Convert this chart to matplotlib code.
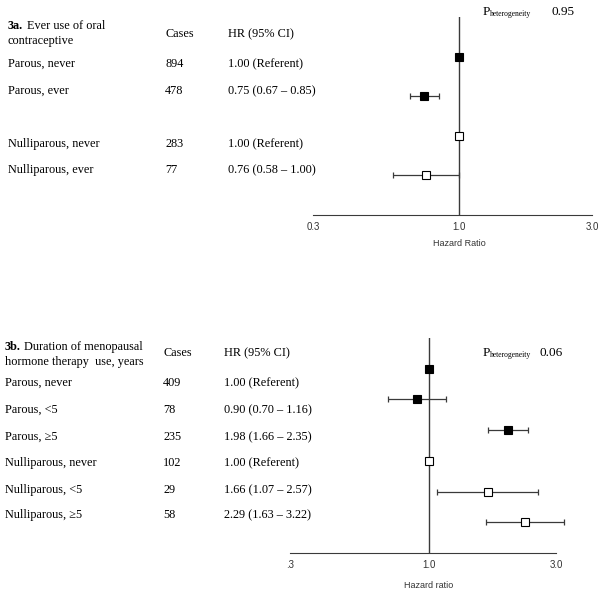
import matplotlib
matplotlib.use("Agg")
import matplotlib.pyplot as plt
import numpy as np

# ---- data (3a: oral contraceptive) ----
oc_labels = ["Parous, never", "Parous, ever", "Nulliparous, never", "Nulliparous, ever"]
oc_cases = [894, 478, 283, 77]
oc_hr = [1.00, 0.75, 1.00, 0.76]
oc_lo = [np.nan, 0.67, np.nan, 0.58]
oc_hi = [np.nan, 0.85, np.nan, 1.00]
oc_hr_text = ["1.00 (Referent)", "0.75 (0.67 \u2013 0.85)", "1.00 (Referent)", "0.76 (0.58 \u2013 1.00)"]
oc_filled = [True, True, False, False]
oc_p = "0.95"

# ---- data (3b: menopausal hormone therapy) ----
ht_labels = ["Parous, never", "Parous, <5", "Parous, \u22655",
             "Nulliparous, never", "Nulliparous, <5", "Nulliparous, \u22655"]
ht_cases = [409, 78, 235, 102, 29, 58]
ht_hr = [1.00, 0.90, 1.98, 1.00, 1.66, 2.29]
ht_lo = [np.nan, 0.70, 1.66, np.nan, 1.07, 1.63]
ht_hi = [np.nan, 1.16, 2.35, np.nan, 2.57, 3.22]
ht_hr_text = ["1.00 (Referent)", "0.90 (0.70 \u2013 1.16)", "1.98 (1.66 \u2013 2.35)",
              "1.00 (Referent)", "1.66 (1.07 \u2013 2.57)", "2.29 (1.63 \u2013 3.22)"]
ht_filled = [True, True, True, False, False, False]
ht_p = "0.06"

tick_vals = [0.3, 1.0, 3.0]
top_ticks = ["0.3", "1.0", "3.0"]
bot_ticks = [".3", "1.0", "3.0"]

W, H = 600, 595
SERIF = "Liberation Serif"
SANS = "Liberation Sans"
LINE = "#3a3a3a"
FS = 8.8

fig = plt.figure(figsize=(W / 100, H / 100), dpi=100)


def T(x, y, s, size=FS, family=SERIF, **kw):
    kw.setdefault("va", "center")
    fig.text(x / W, 1 - y / H, s, fontsize=size, family=family, **kw)


def forest(x0, x1, y_top, y_bot, hr, lo, hi, filled, ticks, xlabel, xlabel_y):
    ax = fig.add_axes([x0 / W, 1 - y_bot / H, (x1 - x0) / W, (y_bot - y_top) / H])
    n = len(hr)
    ax.set_xscale("log")
    ax.set_xlim(0.3, 3.0)
    ax.set_ylim(n, -1)
    ax.axvline(1.0, color=LINE, lw=1.0, zorder=1)
    for i in range(n):
        if not np.isnan(lo[i]):
            ax.errorbar(hr[i], i, xerr=[[hr[i] - lo[i]], [hi[i] - hr[i]]], fmt="none",
                        ecolor=LINE, elinewidth=0.9, capsize=2.3, capthick=0.9,
                        zorder=2, clip_on=False)
        ax.plot(hr[i], i, marker="s", ms=6.3, mec="black", mew=0.8,
                mfc="black" if filled[i] else "white", ls="none", zorder=3, clip_on=False)
    for s in ["top", "right", "left"]:
        ax.spines[s].set_visible(False)
    ax.spines["bottom"].set_color(LINE)
    ax.set_yticks([])
    ax.set_xticks(tick_vals)
    ax.set_xticklabels(ticks)
    ax.xaxis.set_minor_locator(matplotlib.ticker.NullLocator())
    ax.tick_params(axis="x", length=0, pad=5, labelsize=7, colors="#333333")
    for lab in ax.get_xticklabels():
        lab.set_family(SANS)
    # x-axis title centred under the reference line at HR = 1
    x_ref = x0 + (x1 - x0) * np.log10(1 / 0.3) / np.log10(3.0 / 0.3)
    T(x_ref, xlabel_y, xlabel, size=6.5, family=SANS, ha="center", color="#333333")
    ax.patch.set_alpha(0)
    return ax


# ---- panel 3a ----
T(8, 26, "3a.", weight="bold")
T(27, 26, "Ever use of oral")
T(8, 41, "contraceptive")
T(165, 34, "Cases")
T(228, 34, "HR (95% CI)")
oc_text_y = [64, 91, 144, 170]
for i in range(len(oc_labels)):
    T(8, oc_text_y[i], oc_labels[i])
    T(165, oc_text_y[i], str(oc_cases[i]))
    T(228, oc_text_y[i], oc_hr_text[i])
T(483, 12, "P", size=9.5)
T(490, 14, "heterogeneity", size=5.5)
T(552, 12, oc_p, size=9.5)
forest(313, 592, 17, 215, oc_hr, oc_lo, oc_hi, oc_filled, top_ticks, "Hazard Ratio", 244)

# ---- panel 3b ----
T(5, 347, "3b.", weight="bold")
T(24, 347, "Duration of menopausal")
T(5, 362, "hormone therapy  use, years")
T(163, 353, "Cases")
T(224, 353, "HR (95% CI)")
ht_text_y = [383, 410, 437, 463, 490, 515]
for i in range(len(ht_labels)):
    T(5, ht_text_y[i], ht_labels[i])
    T(163, ht_text_y[i], str(ht_cases[i]))
    T(224, ht_text_y[i], ht_hr_text[i])
T(483, 353, "P", size=9.5)
T(490, 355, "heterogeneity", size=5.5)
T(540, 353, ht_p, size=9.5)
forest(290, 556, 338, 553, ht_hr, ht_lo, ht_hi, ht_filled, bot_ticks, "Hazard ratio", 586)

fig.savefig("out.png", dpi=100, facecolor="white")
